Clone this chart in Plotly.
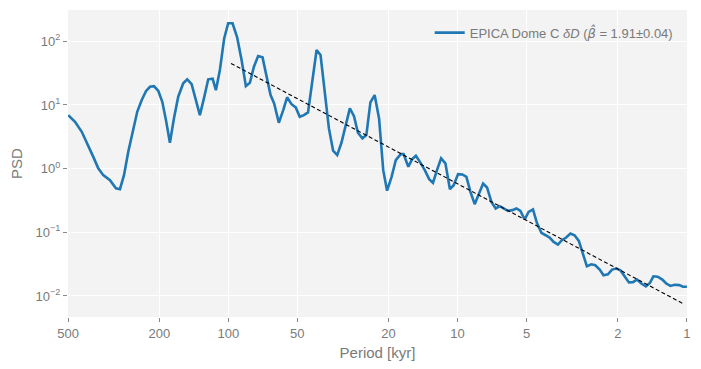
import plotly.graph_objects as go

# Period [kyr] and PSD
period = [499, 466, 435.5, 407.8, 387.9, 369, 351, 328, 309, 296.8,
          285, 273, 261, 249.5, 238.7, 228.6, 219.6, 211, 202, 194,
          187, 179.7, 172.6, 165.3, 157.2, 151, 144.5, 138.8, 133, 127.7,
          122.3, 117, 113.2, 108.8, 104.2, 100.1, 95.8, 91.5, 87.5, 83.8,
          80.5, 77.3, 74.1, 70.9, 68.1, 65.4, 63.1, 60.2, 57.6, 55.4,
          53, 50.8, 48.8, 46.8, 44.9, 43.1, 41.2, 39.6, 37.9, 36.4,
          34.9, 33.5, 32.1, 30.7, 29.5, 28.3, 27.2, 26, 25, 24,
          23, 22, 21.1, 20.3, 19.4, 18.6, 17.7, 17.2, 16.4, 15.8,
          15.2, 14.6, 13.9, 13.3, 12.8, 12.3, 11.8, 11.3, 10.8, 10.4,
          9.95, 9.53, 9.15, 8.79, 8.42, 8.06, 7.74, 7.44, 7.12, 6.82,
          6.55, 6.30, 6.03, 5.77, 5.54, 5.32, 5.10, 4.90, 4.69, 4.51,
          4.31, 4.13, 3.97, 3.81, 3.65, 3.51, 3.36, 3.22, 3.09, 2.96,
          2.84, 2.73, 2.61, 2.51, 2.40, 2.31, 2.21, 2.12, 2.03, 1.95,
          1.87, 1.79, 1.72, 1.65, 1.58, 1.51, 1.45, 1.40, 1.34, 1.28,
          1.23, 1.18, 1.13, 1.08, 1.04, 1.0]
psd = [6.93, 5.44, 3.79, 2.34, 1.53, 1.01, 0.79, 0.66, 0.49, 0.476,
       0.79, 1.84, 4.03, 7.82, 11.9, 16.5, 19.3, 19.8, 16.7, 11.2,
       5.79, 2.55, 6.15, 13.5, 21.9, 25.3, 21.3, 12.7, 6.93, 12.7,
       25.3, 25.8, 17.1, 35.4, 111, 192, 192, 115.6, 50.8, 19.8,
       22.3, 39.9, 58.7, 56, 27.8, 14.3, 10.6, 5.25, 8.32, 13.2,
       10.3, 9.17, 6.52, 6.93, 7.65, 20.6, 73, 60.9, 17.1, 4.29,
       1.91, 1.63, 2.55, 4.83, 8.85, 6.69, 3.66, 2.99, 3.36, 11,
       14.3, 6.15, 0.947, 0.451, 0.743, 1.36, 1.69, 1.69, 1.07, 1.40,
       1.59, 1.28, 0.947, 0.684, 0.598, 0.947, 1.45, 1.21, 0.476, 0.55,
       0.82, 0.81, 0.743, 0.432, 0.277, 0.407, 0.585, 0.506, 0.301, 0.237,
       0.257, 0.237, 0.217, 0.223, 0.237, 0.217, 0.159, 0.209, 0.229, 0.141,
       0.098, 0.090, 0.0828, 0.0706, 0.0643, 0.0752, 0.0828, 0.0957, 0.090, 0.0733,
       0.0437, 0.0293, 0.0315, 0.0304, 0.026, 0.0212, 0.0219, 0.026, 0.027, 0.0254,
       0.0204, 0.0163, 0.0165, 0.0181, 0.0157, 0.0142, 0.016, 0.0204, 0.0201, 0.0181,
       0.0157, 0.0144, 0.015, 0.0148, 0.014, 0.014]

# Power-law fit line endpoints
fit_period = [97.3, 1.04]
fit_psd = [45, 0.0076]

x_tickvals = [500, 200, 100, 50, 20, 10, 5, 2, 1]
x_ticktext = ["500", "200", "100", "50", "20", "10", "5", "2", "1"]
y_tickvals = [0.01, 0.1, 1, 10, 100]
y_ticktext = ["10<sup>\u22122</sup>", "10<sup>\u22121</sup>", "10<sup>0</sup>",
              "10<sup>1</sup>", "10<sup>2</sup>"]

legend_name = ("EPICA Dome C <i>\u03b4D</i> (<span style=\"font-family:'DejaVu Sans'\"><i>\u03b2\u0302</i></span>"
               " = 1.91\u00b10.04)")

grey = "#7a7a7a"

fig = go.Figure()
fig.add_trace(go.Scatter(x=period, y=psd, mode="lines", name=legend_name,
                         line=dict(color="#1f77b4", width=2.6)))
fig.add_trace(go.Scatter(x=fit_period, y=fit_psd, mode="lines", showlegend=False,
                         line=dict(color="black", width=1.1, dash="4px,2.5px")))

fig.update_layout(
    width=693, height=361,
    margin=dict(l=60, r=14, t=2, b=52, autoexpand=False),
    paper_bgcolor="white", plot_bgcolor="#f3f3f3",
    font=dict(family="Liberation Sans, Arial, sans-serif", size=13, color=grey),
    showlegend=True,
    legend=dict(x=0.985, y=0.975, xanchor="right", yanchor="top",
                bgcolor="rgba(0,0,0,0)", font=dict(size=13, color=grey)),
)
fig.update_xaxes(type="log", range=[2.699, -0.0005], tickvals=x_tickvals, ticktext=x_ticktext,
                 automargin=False,
                 showgrid=True, gridcolor="white", gridwidth=1.2,
                 ticks="outside", ticklen=4, tickcolor="#888888",
                 zeroline=False, showline=False,
                 title=dict(text="Period [kyr]", font=dict(size=15, color=grey), standoff=7))
fig.update_yaxes(type="log", range=[-2.33, 2.492], tickvals=y_tickvals, ticktext=y_ticktext,
                 automargin=False,
                 showgrid=True, gridcolor="white", gridwidth=1.2,
                 ticks="outside", ticklen=4, tickcolor="#888888",
                 zeroline=False, showline=False,
                 title=dict(text="PSD", font=dict(size=15, color=grey), standoff=12))

fig.write_html("out.html")
